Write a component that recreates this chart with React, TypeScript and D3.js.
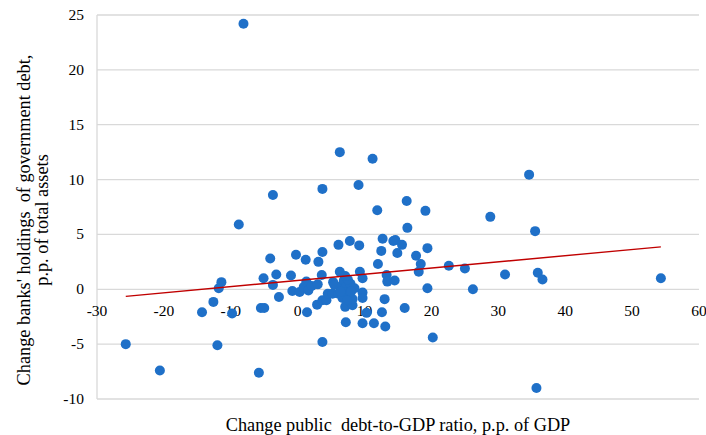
import React from "react";
import * as d3 from "d3";

// change in public debt-to-GDP ratio (x) vs change in banks' holdings of gov. debt (y)
const debtChange: number[] = [
  -25.7, -20.6, -14.3, -12.6, -12.0, -11.8, -11.4, -9.8, -8.8, -8.1, -5.8, -5.5, -5.0, -5.1, -4.1,
  -3.7, -3.7, -3.2, -2.8, -1.0, -0.8, -0.25, 0.3, 0.9, 1.2, 1.3, 1.4, 1.6, 2.1, 2.9, 3.0, 3.1, 3.6,
  3.7, 3.7, 3.7, 3.7, 4.3, 4.5, 5.2, 5.3, 5.5, 6.1, 6.3, 6.3, 6.1, 7.2, 7.1, 7.8, 8.2, 9.1, 9.2,
  9.3, 9.7, 9.7, 9.7, 9.7, 10.3, 11.2, 11.4, 11.9, 12.0, 12.5, 12.7, 12.6, 13.0, 13.1, 13.3, 13.4,
  14.5, 14.3, 14.6, 14.9, 15.6, 16.0, 16.3, 16.4, 17.7, 18.1, 18.4, 19.1, 19.4, 19.4, 20.2, 22.6,
  25.0, 26.2, 28.8, 31.0, 34.6, 35.5, 35.7, 35.9, 36.6, 54.3,
  6.6, 6.9, 7.2, 7.0, 7.6, 6.7, 7.9, 8.2, 7.4, 8.5, 7.5, 8.0, 6.4, 7.1,
];

const holdingsChange: number[] = [
  -5.0, -7.4, -2.1, -1.15, -5.1, 0.1, 0.65, -2.2, 5.9, 24.2, -7.6, -1.7, -1.7, 1.0, 2.8,
  8.6, 0.4, 1.35, -0.7, 1.25, -0.15, 3.15, -0.25, 0.2, 2.7, 0.7, -2.1, -0.1, 0.3, -1.4, 0.45, 2.5, 1.3,
  3.4, 9.15, -4.8, -1.0, -1.0, -0.4, -0.4, 0.65, 0.4, 4.05, 12.5, 1.6, -0.4, -3.0, -1.6, 4.4, -1.45, 9.5, 4.0,
  1.6, 1.0, -0.3, -0.8, -3.1, -2.15, 11.9, -3.1, 7.2, 2.3, 3.5, 4.6, -2.1, -0.9, -3.4, 1.3, 0.7,
  0.8, 4.4, 4.5, 3.3, 4.05, -1.7, 8.05, 5.6, 3.05, 1.6, 2.3, 7.15, 3.75, 0.1, -4.4, 2.15,
  1.9, 0.0, 6.6, 1.35, 10.45, 5.3, -9.0, 1.5, 0.9, 1.0,
  0.3, 0.8, 0.2, -0.3, -0.5, -0.8, 0.5, -0.9, -1.0, 0.1, 0.9, -0.2, -0.2, 1.2,
];

const xTicks = [-30, -20, -10, 0, 10, 20, 30, 40, 50, 60];
const yTicks = [-10, -5, 0, 5, 10, 15, 20, 25];

const xTitle = "Change public  debt-to-GDP ratio, p.p. of GDP";
const yTitle = ["Change banks' holdings  of government debt,", "p.p. of total assets"];

const W = 706;
const H = 435;
const plot = { left: 97, right: 699, top: 15, bottom: 399 };
const font = "'Liberation Serif', 'Times New Roman', serif";

export default function App() {
  const x = d3.scaleLinear().domain([-30, 60]).range([plot.left, plot.right]);
  const y = d3.scaleLinear().domain([-10, 25]).range([plot.bottom, plot.top]);

  const pts = debtChange.map((d, i) => ({ x: d, y: holdingsChange[i] }));

  // linear trend (least squares)
  const mx = d3.mean(pts, (p) => p.x)!;
  const my = d3.mean(pts, (p) => p.y)!;
  const slope =
    d3.sum(pts, (p) => (p.x - mx) * (p.y - my)) / d3.sum(pts, (p) => (p.x - mx) ** 2);
  const icpt = my - slope * mx;
  const [x0, x1] = d3.extent(debtChange) as [number, number];
  const trend = d3.line<number>()
    .x((d) => x(d))
    .y((d) => y(icpt + slope * d))([x0, x1]);

  return (
    <svg
      width={W}
      height={H}
      style={{ position: "absolute", left: 0, top: 0, background: "#fff" }}
      fontFamily={font}
    >
      {/* gridlines */}
      {yTicks.map((t) => (
        <line
          key={"g" + t}
          x1={plot.left}
          x2={plot.right}
          y1={y(t)}
          y2={y(t)}
          stroke="#d9d9d9"
          strokeWidth={1.3}
        />
      ))}
      <line x1={plot.left} x2={plot.left} y1={plot.top} y2={plot.bottom} stroke="#d9d9d9" strokeWidth={1.3} />

      {/* y tick labels */}
      {yTicks.map((t) => (
        <text key={"y" + t} x={plot.left - 13} y={y(t) + 5} textAnchor="end" fontSize={15.5} fill="#000">
          {t}
        </text>
      ))}
      {/* x tick labels sit below the zero line */}
      {xTicks.map((t) => (
        <text key={"x" + t} x={x(t)} y={y(0) + 27} textAnchor="middle" fontSize={15.5} fill="#000">
          {t}
        </text>
      ))}

      {/* dots */}
      {pts.map((p, i) => (
        <circle key={i} cx={x(p.x)} cy={y(p.y)} r={5} fill="#1f70c8" />
      ))}

      <path d={trend ?? ""} fill="none" stroke="#c00000" strokeWidth={1.4} />

      {/* titles */}
      <text
        x={398}
        y={431}
        textAnchor="middle"
        fontSize={18.3}
        fill="#000"
        style={{ whiteSpace: "pre" }}
      >
        {xTitle}
      </text>
      <g transform="translate(0,220) rotate(-90)">
        {yTitle.map((s, i) => (
          <text
            key={i}
            x={0}
            y={30 + i * 18}
            textAnchor="middle"
            fontSize={18.3}
            fill="#000"
            style={{ whiteSpace: "pre" }}
          >
            {s}
          </text>
        ))}
      </g>
    </svg>
  );
}
